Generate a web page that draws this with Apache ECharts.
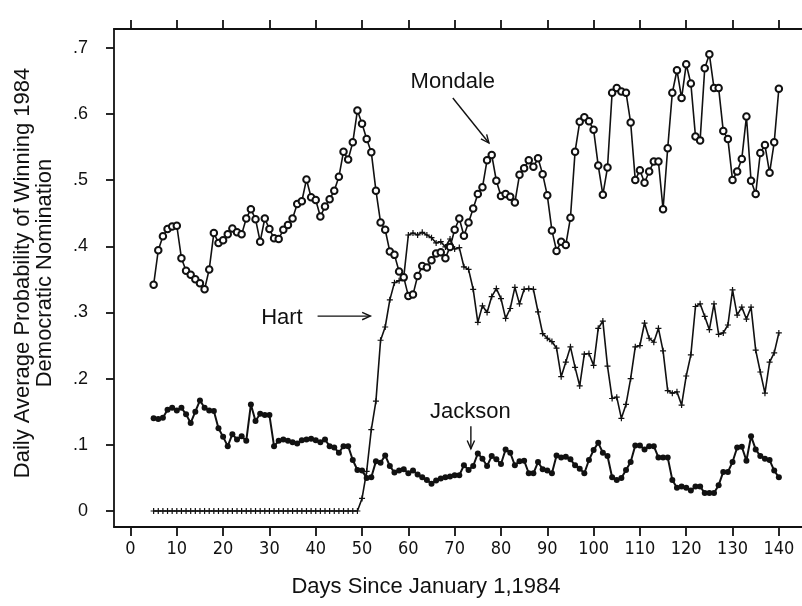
<!DOCTYPE html>
<html>
<head>
<meta charset="utf-8">
<script src="https://cdn.jsdelivr.net/npm/echarts@6/dist/echarts.min.js"></script>
<style>
  html, body { margin: 0; padding: 0; background: #fff; }
  #chart { width: 802px; height: 606px; }
</style>
</head>
<body>
<div id="chart"></div>
<script>
// Daily average probability of winning the 1984 Democratic nomination,
// one value per day starting at day 5 (days since January 1, 1984).
const firstDay = 5;

const mondale = [
  0.342, 0.394, 0.415, 0.426, 0.430, 0.431, 0.382, 0.363, 0.357, 0.350,
  0.344, 0.335, 0.365, 0.420, 0.405, 0.409, 0.418, 0.427, 0.421, 0.418,
  0.442, 0.456, 0.441, 0.407, 0.442, 0.426, 0.412, 0.411, 0.425, 0.432,
  0.442, 0.464, 0.468, 0.501, 0.474, 0.470, 0.445, 0.460, 0.471, 0.484,
  0.505, 0.543, 0.531, 0.557, 0.605, 0.585, 0.562, 0.542, 0.484, 0.436,
  0.425, 0.392, 0.387, 0.362, 0.353, 0.325, 0.327, 0.355, 0.370, 0.368,
  0.379, 0.389, 0.391, 0.382, 0.399, 0.425, 0.442, 0.416, 0.436, 0.457,
  0.479, 0.489, 0.530, 0.538, 0.499, 0.476, 0.479, 0.475, 0.466, 0.508,
  0.518, 0.530, 0.520, 0.533, 0.509, 0.477, 0.424, 0.393, 0.407, 0.402,
  0.443, 0.543, 0.588, 0.595, 0.589, 0.576, 0.522, 0.478, 0.519, 0.632,
  0.639, 0.634, 0.632, 0.587, 0.500, 0.515, 0.496, 0.513, 0.528, 0.528,
  0.456, 0.548, 0.632, 0.666, 0.624, 0.675, 0.646, 0.566, 0.560, 0.669,
  0.690, 0.639, 0.639, 0.574, 0.562, 0.500, 0.513, 0.532, 0.596, 0.499,
  0.479, 0.541, 0.553, 0.511, 0.557, 0.638
];

const hart = [
  0, 0, 0, 0, 0, 0, 0, 0, 0, 0,
  0, 0, 0, 0, 0, 0, 0, 0, 0, 0,
  0, 0, 0, 0, 0, 0, 0, 0, 0, 0,
  0, 0, 0, 0, 0, 0, 0, 0, 0, 0,
  0, 0, 0, 0, 0, 0.019, 0.060, 0.123, 0.166, 0.258,
  0.278, 0.319, 0.345, 0.348, 0.353, 0.417, 0.420, 0.417, 0.421, 0.417,
  0.413, 0.405, 0.407, 0.399, 0.411, 0.396, 0.398, 0.369, 0.365, 0.335,
  0.285, 0.310, 0.300, 0.324, 0.336, 0.321, 0.291, 0.306, 0.338, 0.313,
  0.335, 0.336, 0.335, 0.301, 0.268, 0.261, 0.256, 0.246, 0.203, 0.225,
  0.248, 0.217, 0.189, 0.237, 0.238, 0.220, 0.276, 0.287, 0.219, 0.170,
  0.172, 0.140, 0.161, 0.200, 0.248, 0.250, 0.284, 0.261, 0.255, 0.276,
  0.242, 0.182, 0.178, 0.180, 0.160, 0.204, 0.236, 0.309, 0.313, 0.294,
  0.274, 0.313, 0.267, 0.269, 0.281, 0.334, 0.296, 0.308, 0.290, 0.308,
  0.243, 0.210, 0.178, 0.225, 0.239, 0.269
];

const jackson = [
  0.140, 0.139, 0.141, 0.153, 0.156, 0.152, 0.156, 0.146, 0.133, 0.150,
  0.167, 0.156, 0.152, 0.151, 0.125, 0.112, 0.098, 0.116, 0.108, 0.113,
  0.106, 0.161, 0.136, 0.147, 0.145, 0.145, 0.098, 0.106, 0.108, 0.106,
  0.104, 0.102, 0.107, 0.108, 0.109, 0.107, 0.104, 0.108, 0.098, 0.096,
  0.088, 0.098, 0.098, 0.077, 0.062, 0.061, 0.050, 0.051, 0.075, 0.073,
  0.084, 0.068, 0.058, 0.061, 0.063, 0.057, 0.061, 0.055, 0.051, 0.047,
  0.041, 0.046, 0.049, 0.051, 0.052, 0.054, 0.054, 0.069, 0.062, 0.068,
  0.087, 0.079, 0.068, 0.083, 0.078, 0.071, 0.093, 0.088, 0.069, 0.075,
  0.076, 0.057, 0.057, 0.074, 0.063, 0.061, 0.057, 0.084, 0.081, 0.082,
  0.078, 0.069, 0.064, 0.057, 0.077, 0.092, 0.103, 0.088, 0.083, 0.051,
  0.047, 0.050, 0.062, 0.074, 0.099, 0.099, 0.093, 0.098, 0.098, 0.081,
  0.081, 0.081, 0.047, 0.035, 0.037, 0.035, 0.031, 0.037, 0.037, 0.027,
  0.027, 0.027, 0.039, 0.059, 0.059, 0.074, 0.096, 0.097, 0.076, 0.113,
  0.093, 0.083, 0.079, 0.077, 0.061, 0.051
];

const dayTicks = [0, 10, 20, 30, 40, 50, 60, 70, 80, 90, 100, 110, 120, 130, 140];
const probTicks = [0, 0.1, 0.2, 0.3, 0.4, 0.5, 0.6, 0.7];
const probTickLabels = ['0', '.1', '.2', '.3', '.4', '.5', '.6', '.7'];

const xTitle = 'Days Since January 1,1984';
const yTitleLines = ['Daily Average Probability of Winning 1984', 'Democratic Nomination'];

// Candidate labels with arrows, in data coordinates: [day, probability]
const labels = [
  { text: 'Mondale', at: [69.6, 0.648], from: [69.6, 0.624], to: [77.4, 0.556] },
  { text: 'Hart', at: [32.7, 0.291], from: [40.4, 0.2945], to: [51.8, 0.2945] },
  { text: 'Jackson', at: [73.4, 0.149], from: [73.5, 0.128], to: [73.5, 0.094] }
];

const toPairs = (vals) => vals.map((v, i) => [firstDay + i, v]);

const INK = '#111';
const tickFont = '"DejaVu Sans Condensed", "Liberation Sans Narrow", "DejaVu Sans", sans-serif';
const textFont = '"Liberation Sans", Arial, Helvetica, sans-serif';

const xMin = -3.56, xMax = 145;
const yMin = -0.0242, yMax = 0.7283;
const pxPerDay = 4.6857;

const chart = echarts.init(document.getElementById('chart'), null, { renderer: 'canvas' });

const axisLineStyle = { color: INK, width: 1.8 };

chart.setOption({
  animation: false,
  backgroundColor: '#fff',
  grid: { left: 114, top: 29, width: (xMax - xMin) * pxPerDay, height: 498, containLabel: false },
  xAxis: [
    {
      type: 'value', position: 'bottom', min: xMin, max: xMax,
      axisLine: { show: true, onZero: false, lineStyle: axisLineStyle },
      axisTick: { show: true, inside: false, length: 9, customValues: dayTicks, lineStyle: axisLineStyle },
      axisLabel: { show: true, customValues: dayTicks, margin: 13, color: INK,
                   fontFamily: tickFont, fontSize: 18 },
      splitLine: { show: false }
    },
    {
      type: 'value', position: 'top', min: xMin, max: xMax,
      axisLine: { show: true, onZero: false, lineStyle: axisLineStyle },
      axisTick: { show: true, inside: false, length: 9, customValues: dayTicks, lineStyle: axisLineStyle },
      axisLabel: { show: false },
      splitLine: { show: false }
    }
  ],
  yAxis: {
    type: 'value', min: yMin, max: yMax,
    axisLine: { show: true, onZero: false, lineStyle: axisLineStyle },
    axisTick: { show: true, inside: false, length: 8, customValues: probTicks, lineStyle: axisLineStyle },
    axisLabel: {
      show: true, customValues: probTicks, margin: 26, color: INK,
      fontFamily: textFont, fontSize: 18,
      formatter: (v) => {
        const i = probTicks.findIndex((t) => Math.abs(t - v) < 1e-6);
        return i >= 0 ? probTickLabels[i] : '';
      }
    },
    splitLine: { show: false }
  },
  series: [
    {
      name: 'Jackson', type: 'line', data: toPairs(jackson),
      symbol: 'circle', symbolSize: 6, showSymbol: true, showAllSymbol: true,
      lineStyle: { color: INK, width: 2 },
      itemStyle: { color: INK },
      z: 2
    },
    {
      name: 'Hart', type: 'line', data: toPairs(hart),
      symbol: 'path://M4,0H6V4H10V6H6V10H4V6H0V4H4Z', symbolSize: 6,
      showSymbol: true, showAllSymbol: true,
      lineStyle: { color: INK, width: 1.6 },
      itemStyle: { color: INK },
      z: 3
    },
    {
      name: 'Mondale', type: 'line', data: toPairs(mondale),
      symbol: 'emptyCircle', symbolSize: 6.5, showSymbol: true, showAllSymbol: true,
      lineStyle: { color: INK, width: 1.6 },
      itemStyle: { color: INK, borderColor: INK, borderWidth: 1.5 },
      z: 4
    }
  ]
});

// Titles and candidate labels, placed through the axes' own pixel conversion.
function buildGraphics() {
  const px = (p) => chart.convertToPixel({ xAxisIndex: 0, yAxisIndex: 0 }, p);
  const els = [];

  els.push({
    type: 'text', x: 426, y: 587,
    style: { text: xTitle, font: '22px ' + textFont, fill: INK,
             align: 'center', verticalAlign: 'middle', textAlign: 'center', textVerticalAlign: 'middle' }
  });
  yTitleLines.forEach((line, i) => {
    els.push({
      type: 'text', x: 23 + i * 21.5, y: 273, rotation: Math.PI / 2,
      style: { text: line, font: '22px ' + textFont, fill: INK,
               align: 'center', verticalAlign: 'middle', textAlign: 'center', textVerticalAlign: 'middle' }
    });
  });

  labels.forEach((lab) => {
    const t = px(lab.at), a = px(lab.from), b = px(lab.to);
    els.push({
      type: 'text', x: t[0], y: t[1],
      style: { text: lab.text, font: '22px ' + textFont, fill: INK,
               align: 'center', verticalAlign: 'middle', textAlign: 'center', textVerticalAlign: 'middle' }
    });
    els.push({
      type: 'line', shape: { x1: a[0], y1: a[1], x2: b[0], y2: b[1] },
      style: { stroke: INK, lineWidth: 1.4 }
    });
    // open arrow head
    const ang = Math.atan2(b[1] - a[1], b[0] - a[0]);
    const L = 9, spread = 0.42;
    const p1 = [b[0] - L * Math.cos(ang - spread), b[1] - L * Math.sin(ang - spread)];
    const p2 = [b[0] - L * Math.cos(ang + spread), b[1] - L * Math.sin(ang + spread)];
    els.push({
      type: 'polyline', shape: { points: [p1, b, p2] },
      style: { stroke: INK, lineWidth: 1.4, fill: null }
    });
  });

  chart.setOption({ graphic: { elements: els } });
}
buildGraphics();
</script>
</body>
</html>
